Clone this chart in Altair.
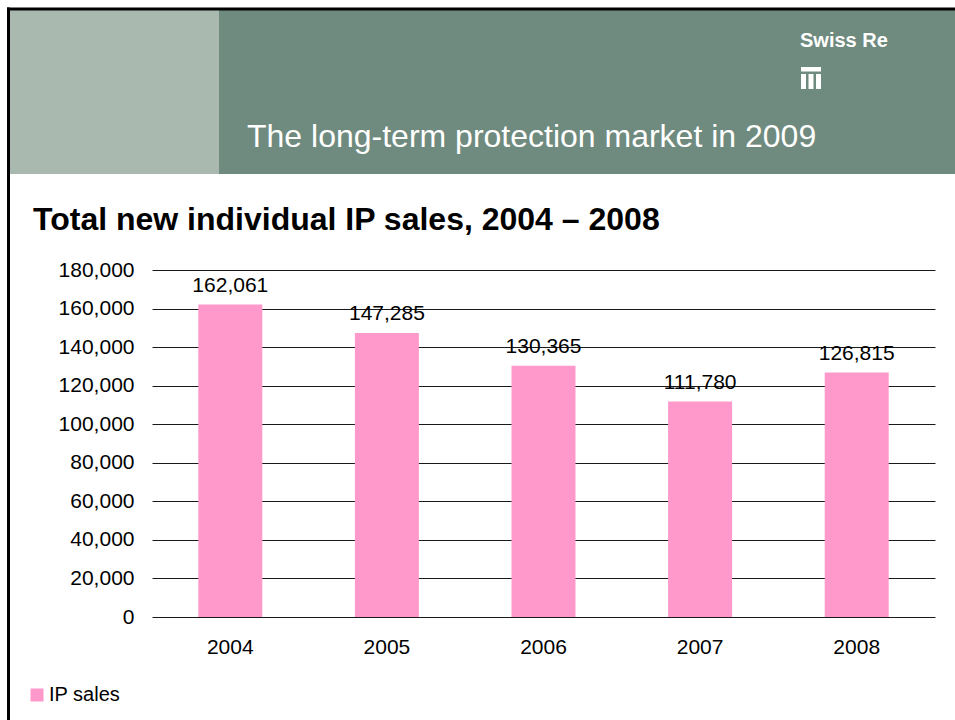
import altair as alt
import pandas as pd

years = ["2004", "2005", "2006", "2007", "2008"]
sales = [162061, 147285, 130365, 111780, 126815]
y_ticks = [0, 20000, 40000, 60000, 80000, 100000, 120000, 140000, 160000, 180000]
series_name = "IP sales"
header_title = "The long-term protection market in 2009"
chart_title = "Total new individual IP sales, 2004 \u2013 2008"
logo_text = "Swiss Re"

FONT = "Liberation Sans"
PINK = "#FF99CC"
LIGHT = "#A9B9B0"
DARK = "#6F8A7E"

# plot area origin in page: (152, 270); size 783 x 347
OX, OY = 152, 270
W, H = 783, 347

df = pd.DataFrame({"year": years, "sales": sales, "series": [series_name] * len(years)})
one = pd.DataFrame({"k": [0]})


def px(x):
    return alt.value(x - OX)


def py(y):
    return alt.value(y - OY)


base = alt.Chart(df)

xenc = alt.X(
    "year:N",
    title=None,
    scale=alt.Scale(paddingInner=0.59, paddingOuter=0.295),
    axis=alt.Axis(domain=False, ticks=False, labelAngle=0, labelPadding=19,
                  labelFontSize=21, labelFont=FONT, labelColor="#000"),
)
yenc = alt.Y(
    "sales:Q",
    title=None,
    scale=alt.Scale(domain=[0, 180000], nice=False),
    axis=alt.Axis(values=y_ticks, format=",d", domain=False, ticks=False, grid=True,
                  gridColor="#1a1a1a", gridWidth=1, gridOpacity=1, labelPadding=18,
                  labelOverlap=False, labelFlush=False,
                  labelFontSize=21, labelFont=FONT, labelColor="#000"),
)

bars = base.mark_bar(size=64).encode(
    x=xenc,
    y=yenc,
    color=alt.Color(
        "series:N",
        scale=alt.Scale(domain=[series_name], range=[PINK]),
        legend=alt.Legend(
            title=None, orient="none", legendX=31 - OX - 4, legendY=689 - OY - 4,
            symbolType="square", symbolSize=169, symbolStrokeWidth=0, symbolOpacity=1,
            labelFontSize=20, labelFont=FONT, labelColor="#000", padding=0,
            labelOffset=2,
        ),
    ),
)

labels = base.mark_text(dy=-13, baseline="alphabetic", fontSize=21, font=FONT, color="#000").encode(
    x=xenc, y=yenc, text=alt.Text("sales:Q", format=",d")
)

hdr_light = alt.Chart(one).mark_rect(color=LIGHT).encode(
    x=px(10), x2=px(219), y=py(10), y2=py(174)
)
hdr_dark = alt.Chart(one).mark_rect(color=DARK).encode(
    x=px(219), x2=px(955), y=py(10), y2=py(174)
)
border_top = alt.Chart(one).mark_rule(color="#000", strokeWidth=3).encode(
    x=px(7), x2=px(955), y=py(9)
)
border_left = alt.Chart(one).mark_rule(color="#000", strokeWidth=3).encode(
    x=px(8.5), y=py(7.5), y2=py(720)
)
hdr_text = alt.Chart(one).mark_text(
    align="left", baseline="alphabetic", fontSize=32, font=FONT, color="#FFFFFF"
).encode(x=px(247), y=py(147), text=alt.value(header_title))
logo = alt.Chart(one).mark_text(
    align="left", baseline="alphabetic", fontSize=20, font=FONT, fontWeight="bold",
    color="#FFFFFF"
).encode(x=px(800), y=py(47), text=alt.value(logo_text))
logo_bar = alt.Chart(one).mark_rect(color="#FFFFFF").encode(
    x=px(801), x2=px(821), y=py(67), y2=py(71.5)
)
logo_c1 = alt.Chart(one).mark_rect(color="#FFFFFF").encode(
    x=px(801), x2=px(806), y=py(74), y2=py(89)
)
logo_c2 = alt.Chart(one).mark_rect(color="#FFFFFF").encode(
    x=px(808.5), x2=px(813.5), y=py(74), y2=py(89)
)
logo_c3 = alt.Chart(one).mark_rect(color="#FFFFFF").encode(
    x=px(816), x2=px(821), y=py(74), y2=py(89)
)
title_text = alt.Chart(one).mark_text(
    align="left", baseline="alphabetic", fontSize=32, font=FONT, fontWeight="bold", color="#000"
).encode(x=px(33), y=py(230), text=alt.value(chart_title))

chart = alt.layer(
    hdr_light, hdr_dark, border_top, border_left, hdr_text, logo,
    logo_bar, logo_c1, logo_c2, logo_c3, title_text, bars, labels,
).properties(
    width=W, height=H,
    autosize=alt.AutoSizeParams(type="none"),
    padding={"left": OX, "top": OY, "right": 955 - OX - W, "bottom": 720 - OY - H},
    background="#FFFFFF",
).configure_view(stroke=None)

chart.save("out.html", embed_options={"renderer": "svg", "actions": False})
